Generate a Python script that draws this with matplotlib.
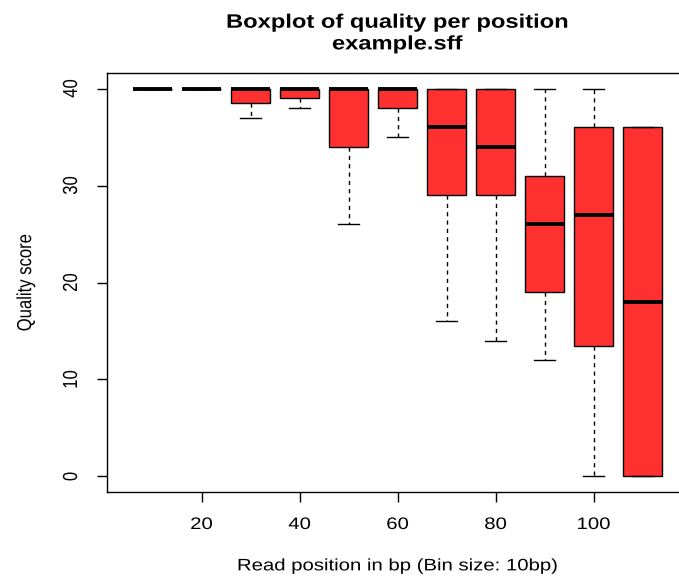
#! /usr/bin/env python3
import matplotlib
matplotlib.use("Agg")
import matplotlib.pyplot as plt
from matplotlib import patheffects
from matplotlib.transforms import Affine2D

# Box statistics (one entry per 10bp bin)
positions = [10, 20, 30, 40, 50, 60, 70, 80, 90, 100, 110]
whisker_low = [40, 40, 37, 38, 26, 35, 16, 14, 12, 0, 0]
q1 = [40, 40, 38.5, 39, 34, 38, 29, 29, 19, 13.5, 0]
medians = [40, 40, 40, 40, 40, 40, 36, 34, 26, 27, 18]
q3 = [40, 40, 40, 40, 40, 40, 40, 40, 31, 36, 36]
whisker_high = [40, 40, 40, 40, 40, 40, 40, 40, 40, 40, 36]

x_ticks = [20, 40, 60, 80, 100]
y_ticks = [0, 10, 20, 30, 40]


class StretchX(patheffects.AbstractPathEffect):
    """Widen glyphs horizontally (the original png is a bit stretched)."""

    def __init__(self, sx):
        super().__init__()
        self.sx = sx

    def draw_path(self, renderer, gc, tpath, affine, rgbFace=None):
        ext = affine.transform_path(tpath).get_extents()
        cx = 0.5 * (ext.x0 + ext.x1)
        stretched = affine + Affine2D().translate(-cx, 0).scale(self.sx, 1).translate(cx, 0)
        renderer.draw_path(gc, tpath, stretched, rgbFace)


plt.rcParams['font.family'] = ['Liberation Sans', 'DejaVu Sans']
stretch = [StretchX(1.22)]

W, H = 679, 580
fig = plt.figure(figsize=(W / 100, H / 100), dpi=100)
# plot region in pixels (right edge falls outside the image, as in the original)
left, right, top, bottom = 106.5, 688.6, 73, 492
ax = fig.add_axes([left / W, 1 - bottom / H, (right - left) / W, (bottom - top) / H])

stats = []
for i in range(len(positions)):
    stats.append(dict(whislo=whisker_low[i], q1=q1[i], med=medians[i],
                      q3=q3[i], whishi=whisker_high[i]))

ax.bxp(stats, positions=positions, widths=8, capwidths=4.2,
       showfliers=False, patch_artist=True,
       boxprops=dict(facecolor='#FF3030', edgecolor='black', linewidth=1.0),
       medianprops=dict(color='black', linewidth=2.8, solid_capstyle='butt'),
       whiskerprops=dict(color='black', linewidth=1.0, linestyle=(0, (3, 3))),
       capprops=dict(color='black', linewidth=1.0))

ax.set_xlim(0.6, 119.4)
ax.set_ylim(-1.6, 41.6)
ax.set_xticks(x_ticks)
ax.set_xticklabels([str(t) for t in x_ticks])
ax.set_yticks(y_ticks)
ax.set_yticklabels([str(t) for t in y_ticks], rotation=90, va='center')
ax.tick_params(axis='both', length=7, width=1, labelsize=12, colors='black')
ax.tick_params(axis='x', pad=11)
ax.tick_params(axis='y', pad=13)

for side in ['left', 'bottom', 'top']:
    ax.spines[side].set_linewidth(1.0)
ax.spines['right'].set_visible(False)

title = ax.set_title('Boxplot of quality per position\nexample.sff',
                     fontsize=14, fontweight='bold', pad=17, linespacing=1.36)
xlab = ax.set_xlabel('Read position in bp (Bin size: 10bp)', fontsize=12, labelpad=19)
ylab = ax.set_ylabel('Quality score', fontsize=12, labelpad=22)

for t in [title, xlab, ylab] + ax.get_xticklabels() + ax.get_yticklabels():
    t.set_path_effects(stretch)

fig.savefig('out.png', dpi=100)
